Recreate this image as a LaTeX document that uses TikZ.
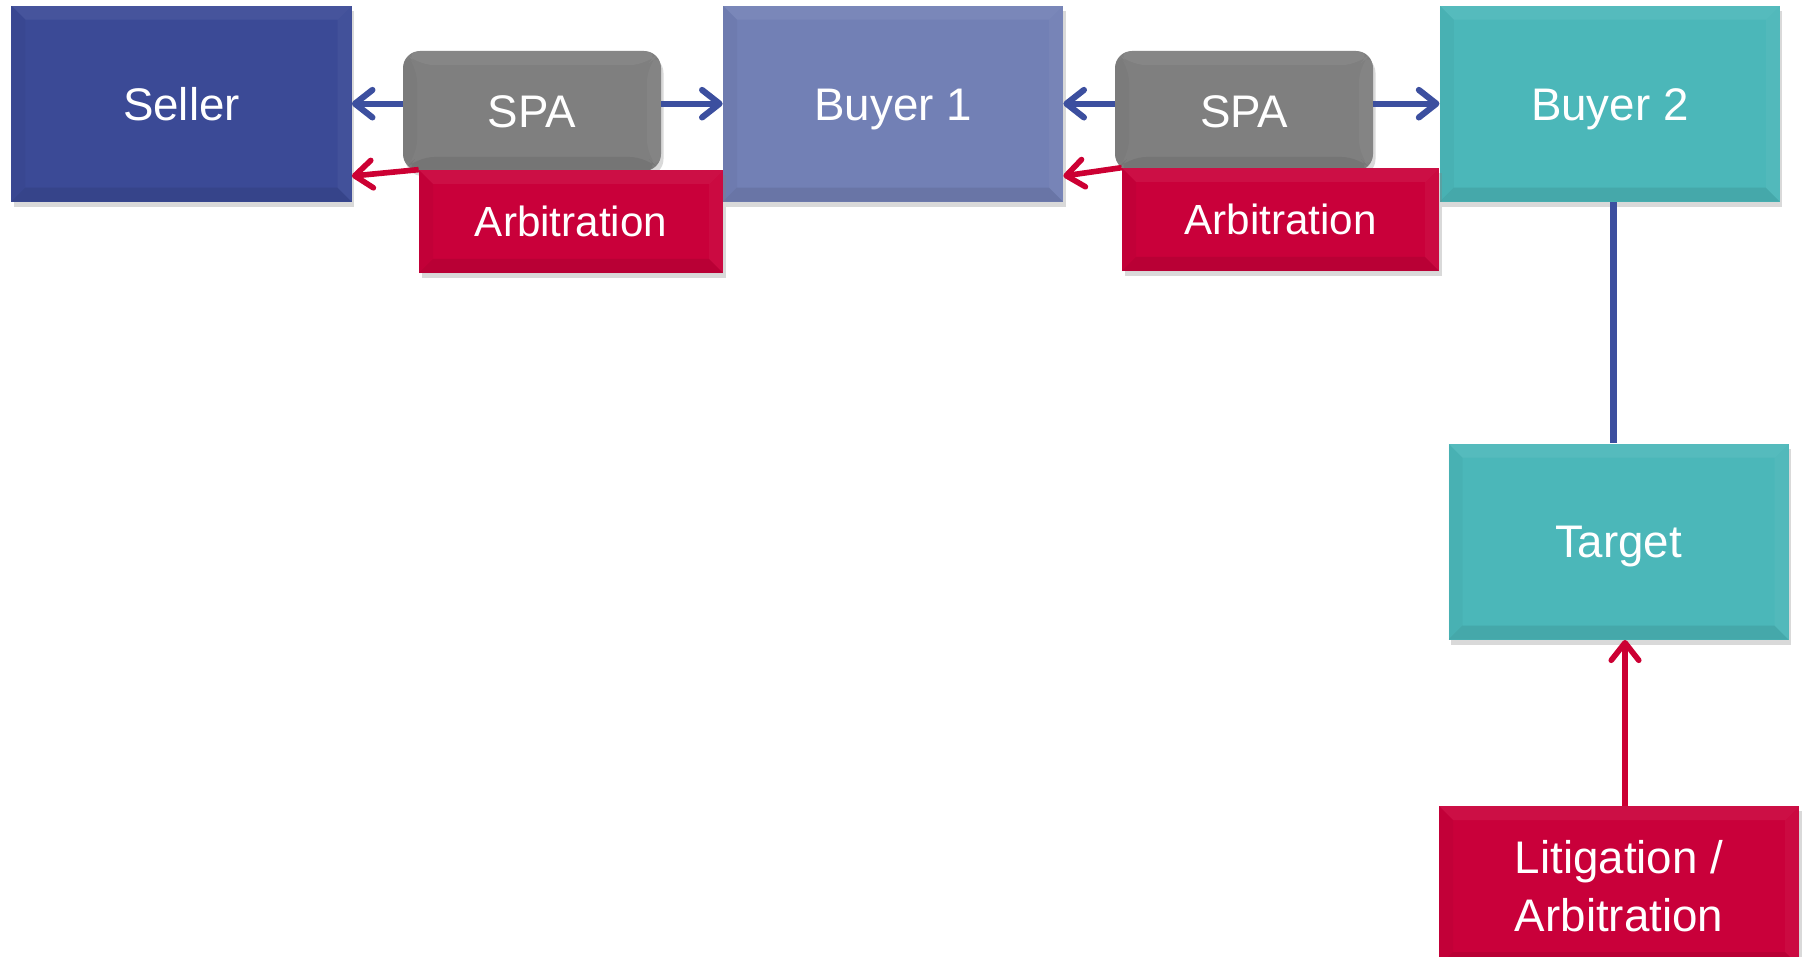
\documentclass[tikz,border=0pt]{standalone}
\usepackage{fontspec}
\setmainfont{Liberation Sans}
\usetikzlibrary{arrows.meta,shadows,calc}
\definecolor{vendeur}{HTML}{3B4A96}
\definecolor{acheteurA}{HTML}{7280B5}
\definecolor{acheteurB}{HTML}{4BB7B9}
\definecolor{gris}{HTML}{7F7F7F}
\definecolor{rouge}{HTML}{C9003A}
\definecolor{bleu}{HTML}{3C4F9F}
\definecolor{rougef}{HTML}{CC0033}

\begin{document}
\begin{tikzpicture}[x=0.2mm,y=-0.2mm]
\tikzset{biseau/.style={path picture={
  \coordinate (nw) at (path picture bounding box.north west);
  \coordinate (ne) at (path picture bounding box.north east);
  \coordinate (sw) at (path picture bounding box.south west);
  \coordinate (se) at (path picture bounding box.south east);
  \fill[white, opacity=0.06] (nw) -- (ne) -- ($(ne)+(-2.8mm,-2.8mm)$) -- ($(nw)+(2.8mm,-2.8mm)$) -- cycle;
  \fill[black, opacity=0.03] (nw) -- (sw) -- ($(sw)+(2.8mm,2.8mm)$) -- ($(nw)+(2.8mm,-2.8mm)$) -- cycle;
  \fill[black, opacity=0.08] (sw) -- (se) -- ($(se)+(-2.8mm,2.8mm)$) -- ($(sw)+(2.8mm,2.8mm)$) -- cycle;
  \fill[white, opacity=0.04] (ne) -- (se) -- ($(se)+(-2.8mm,2.8mm)$) -- ($(ne)+(-2.8mm,-2.8mm)$) -- cycle;
}}}
\tikzset{boite/.style={rectangle, inner sep=0pt, text=white, align=center, font=\fontsize{26}{33}\selectfont, biseau, drop shadow={shadow xshift=0.5mm, shadow yshift=-1mm, opacity=0.3}}}
\tikzset{ligne/.style={text height=18.6pt, text depth=0pt}}
\tikzset{grande/.style={boite, ligne, minimum width=68mm, minimum height=39.2mm}}
\tikzset{accord/.style={boite, ligne, fill=gris, rounded corners=3.4mm, minimum width=51.6mm, minimum height=24mm}}
\tikzset{arbitre/.style={boite, ligne, fill=rouge, font=\fontsize{24}{30}\selectfont, text height=17.2pt, minimum height=20.6mm}}
\tikzset{fleche/.style={line width=3.5pt, -{Straight Barb[round, length=3.5mm, width=5.5mm]}}}
\clip (0,0) rectangle (1807,957);
\node[grande, fill=vendeur] (S) at (181.5,103.7) {Seller};
\node[grande, fill=acheteurA] (B1) at (893,103.7) {Buyer 1};
\node[grande, fill=acheteurB] (B2) at (1609.8,103.7) {Buyer 2};
\node[accord] (SPA1) at (532,111) {SPA};
\node[accord] (SPA2) at (1244,111) {SPA};
\node[arbitre, minimum width=60.8mm] (A1) at (571,221.5) {Arbitration};
\node[arbitre, minimum width=63.4mm] (A2) at (1280.5,219.5) {Arbitration};
\node[grande, fill=acheteurB] (T) at (1618.5,541.6) {Target};
\node[boite, fill=rouge, minimum width=72mm, minimum height=32mm] (L) at (1619,886) {Litigation /\\Arbitration};
\draw[fleche, bleu] (S.east -| SPA1.west) -- (S.east);
\draw[fleche, bleu] (B1.west -| SPA1.east) -- (B1.west);
\draw[fleche, bleu] (B1.east -| SPA2.west) -- (B1.east);
\draw[fleche, bleu] (B2.west -| SPA2.east) -- (B2.west);
\draw[fleche, rougef, line width=3.2pt] (A1.north west) -- ($(S.south east)+(0,-26)$);
\draw[fleche, rougef, line width=3.2pt] (A2.north west) -- ($(B1.south east)+(0,-26)$);
\draw[bleu, line width=4pt] ($(B2.south)+(4,0)$) -- ($(B2.south |- T.north)+(4,0)$);
\draw[fleche, rougef, line width=3.2pt] ($(L.north)+(6,0)$) -- ($(L.north |- T.south)+(6,0)$);
\end{tikzpicture}
\end{document}
